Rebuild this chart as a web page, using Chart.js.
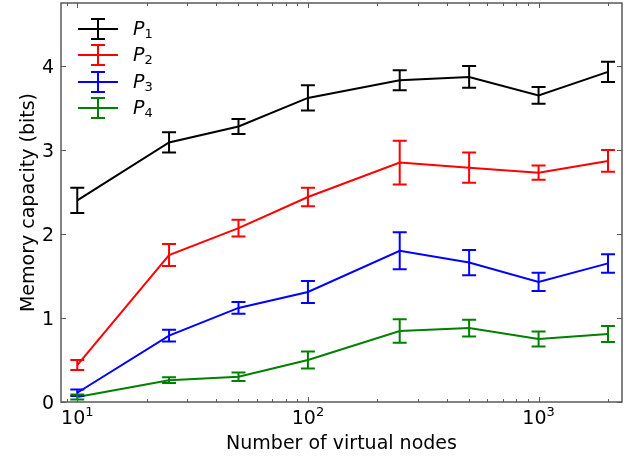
<!DOCTYPE html>
<html>
<head>
<meta charset="utf-8">
<script src="https://cdn.jsdelivr.net/npm/chart.js@4"></script>
<style>
  html, body { margin: 0; padding: 0; background: #fff; }
  #wrap { width: 641px; height: 459px; }
</style>
</head>
<body>
<div id="wrap"><canvas id="myChart" width="641" height="459"></canvas></div>
<script>
const nodes = [10, 25, 50, 100, 250, 500, 1000, 2000];

const p1 = [2.40, 3.09, 3.28, 3.62, 3.83, 3.87, 3.65, 3.93];
const p1Err = [0.15, 0.12, 0.09, 0.15, 0.12, 0.13, 0.10, 0.12];
const p2 = [0.44, 1.75, 2.07, 2.44, 2.85, 2.79, 2.73, 2.87];
const p2Err = [0.06, 0.13, 0.10, 0.11, 0.26, 0.18, 0.085, 0.13];
const p3 = [0.11, 0.79, 1.12, 1.31, 1.80, 1.66, 1.43, 1.65];
const p3Err = [0.04, 0.07, 0.07, 0.13, 0.22, 0.15, 0.11, 0.11];
const p4 = [0.06, 0.26, 0.30, 0.50, 0.845, 0.88, 0.75, 0.81];
const p4Err = [0.03, 0.035, 0.05, 0.10, 0.14, 0.10, 0.09, 0.095];

const seriesNames = ['1', '2', '3', '4'];
const seriesColors = ['#000000', '#ff0000', '#0000ff', '#008000'];
const yTicks = [0, 1, 2, 3, 4];
const xMajorTicks = [10, 100, 1000];
const xExponents = ['1', '2', '3'];

const toPoints = (vals) => vals.map((v, i) => ({ x: nodes[i], y: v }));

const allVals = [p1, p2, p3, p4];
const allErrs = [p1Err, p2Err, p3Err, p4Err];

const FONT = '"DejaVu Sans", sans-serif';
const FRAME = '#5a5a5a';

const errorBarPlugin = {
  id: 'errorBars',
  afterDatasetsDraw(chart) {
    const ctx = chart.ctx;
    const xs = chart.scales.x;
    const ys = chart.scales.y;
    const area = chart.chartArea;

    // error bars
    allVals.forEach((vals, s) => {
      ctx.save();
      ctx.strokeStyle = seriesColors[s];
      ctx.lineWidth = 2;
      vals.forEach((v, i) => {
        const px = xs.getPixelForValue(nodes[i]);
        const top = ys.getPixelForValue(v + allErrs[s][i]);
        const bot = ys.getPixelForValue(v - allErrs[s][i]);
        ctx.beginPath();
        ctx.moveTo(px, top); ctx.lineTo(px, bot);
        ctx.moveTo(px - 7, top); ctx.lineTo(px + 7, top);
        ctx.moveTo(px - 7, bot); ctx.lineTo(px + 7, bot);
        ctx.stroke();
      });
      ctx.restore();
    });

    // frame
    ctx.save();
    ctx.strokeStyle = FRAME;
    ctx.lineWidth = 1.5;
    ctx.strokeRect(area.left, area.top, area.right - area.left, area.bottom - area.top);

    // x ticks (log, inward, top and bottom)
    ctx.lineWidth = 1;
    for (let e = 0; e <= 3; e++) {
      for (let m = 1; m <= 9; m++) {
        const v = m * Math.pow(10, e);
        if (v < xs.min || v > xs.max) continue;
        const px = Math.round(xs.getPixelForValue(v)) + 0.5;
        const len = m === 1 ? 5 : 3;
        ctx.beginPath();
        ctx.moveTo(px, area.bottom); ctx.lineTo(px, area.bottom - len);
        ctx.moveTo(px, area.top); ctx.lineTo(px, area.top + len);
        ctx.stroke();
      }
    }
    // y ticks (left and right)
    yTicks.forEach((t) => {
      const py = Math.round(ys.getPixelForValue(t)) + 0.5;
      ctx.beginPath();
      ctx.moveTo(area.left, py); ctx.lineTo(area.left + 5, py);
      ctx.moveTo(area.right, py); ctx.lineTo(area.right - 5, py);
      ctx.stroke();
    });

    // tick labels
    ctx.fillStyle = '#000';
    ctx.font = '19px ' + FONT;
    ctx.textAlign = 'right';
    ctx.textBaseline = 'alphabetic';
    yTicks.forEach((t) => {
      ctx.fillText(String(t), 54, ys.getPixelForValue(t) + 7);
    });
    xMajorTicks.forEach((t, i) => {
      const px = xs.getPixelForValue(t);
      ctx.font = '19px ' + FONT;
      ctx.textAlign = 'left';
      ctx.textBaseline = 'alphabetic';
      const w1 = ctx.measureText('10').width;
      ctx.font = '13px ' + FONT;
      const w2 = ctx.measureText(xExponents[i]).width;
      const start = px - (w1 + w2) / 2;
      ctx.font = '19px ' + FONT;
      ctx.fillText('10', start, 424);
      ctx.font = '13px ' + FONT;
      ctx.fillText(xExponents[i], start + w1, 416);
    });

    // axis titles
    ctx.font = '19px ' + FONT;
    ctx.textAlign = 'center';
    ctx.textBaseline = 'alphabetic';
    ctx.fillText('Number of virtual nodes', (area.left + area.right) / 2, 449);
    ctx.save();
    ctx.translate(34, (area.top + area.bottom) / 2);
    ctx.rotate(-Math.PI / 2);
    ctx.fillText('Memory capacity (bits)', 0, 0);
    ctx.restore();

    // legend
    const rows = [29, 55, 82, 108];
    seriesNames.forEach((n, s) => {
      const y = rows[s];
      ctx.strokeStyle = seriesColors[s];
      ctx.lineWidth = 2;
      ctx.beginPath();
      ctx.moveTo(78, y); ctx.lineTo(118, y);
      ctx.moveTo(98, y - 10); ctx.lineTo(98, y + 10);
      ctx.moveTo(91, y - 10); ctx.lineTo(105, y - 10);
      ctx.moveTo(91, y + 10); ctx.lineTo(105, y + 10);
      ctx.stroke();
      ctx.fillStyle = '#000';
      ctx.textAlign = 'left';
      ctx.textBaseline = 'alphabetic';
      ctx.font = 'italic 19px ' + FONT;
      ctx.fillText('P', 133, y + 6);
      const wp = ctx.measureText('P').width;
      ctx.font = '13px ' + FONT;
      ctx.fillText(n, 133 + wp, y + 9);
    });
    ctx.restore();
  }
};

const config = {
  type: 'line',
  data: {
    datasets: allVals.map((vals, s) => ({
      label: 'P' + seriesNames[s],
      data: toPoints(vals),
      borderColor: seriesColors[s],
      backgroundColor: seriesColors[s],
      borderWidth: 2,
      pointRadius: 0,
      fill: false,
      tension: 0
    }))
  },
  options: {
    responsive: false,
    animation: false,
    layout: { padding: { left: 61, top: 3, right: 19, bottom: 57 } },
    plugins: { legend: { display: false }, tooltip: { enabled: false } },
    scales: {
      x: { type: 'logarithmic', min: 8.5, max: 2300, display: false },
      y: { type: 'linear', min: 0, max: 4.75, display: false }
    }
  },
  plugins: [errorBarPlugin]
};

window.onload = () => {
  new Chart(document.getElementById('myChart'), config);
};
</script>
</body>
</html>
